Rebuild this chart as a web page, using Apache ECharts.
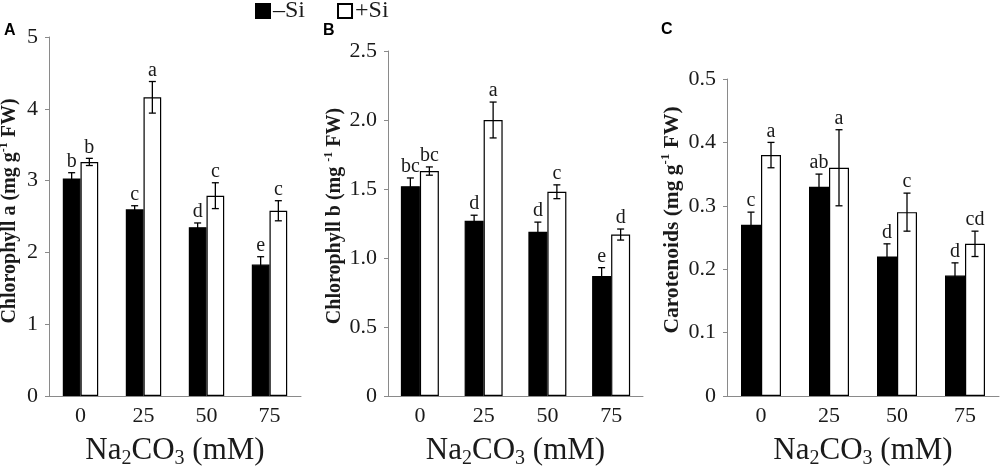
<!DOCTYPE html>
<html>
<head>
<meta charset="utf-8">
<script src="https://cdn.jsdelivr.net/npm/echarts@6/dist/echarts.min.js"></script>
<style>
  html, body { margin: 0; padding: 0; background: #fff; }
  #chart { width: 1000px; height: 469px; }
</style>
</head>
<body>
<div id="chart"></div>
<script>
(function () {

    var categories = ['0', '25', '50', '75'];

    // A: chlorophyll a
    var chlANoSi = [3.03, 2.60, 2.35, 1.83];
    var chlANoSiErr = [0.08, 0.05, 0.06, 0.11];
    var chlASi = [3.26, 4.16, 2.79, 2.58];
    var chlASiErr = [0.05, 0.22, 0.18, 0.14];
    var chlANoSiLetters = ['b', 'c', 'd', 'e'];
    var chlASiLetters = ['b', 'a', 'c', 'c'];

    // B: chlorophyll b
    var chlBNoSi = [1.52, 1.27, 1.19, 0.87];
    var chlBNoSiErr = [0.06, 0.04, 0.07, 0.06];
    var chlBSi = [1.63, 2.00, 1.48, 1.17];
    var chlBSiErr = [0.03, 0.13, 0.05, 0.04];
    var chlBNoSiLetters = ['bc', 'd', 'd', 'e'];
    var chlBSiLetters = ['bc', 'a', 'c', 'd'];

    // C: carotenoids
    var carNoSi = [0.27, 0.33, 0.22, 0.19];
    var carNoSiErr = [0.02, 0.02, 0.02, 0.02];
    var carSi = [0.38, 0.36, 0.29, 0.24];
    var carSiErr = [0.02, 0.06, 0.03, 0.02];
    var carNoSiLetters = ['c', 'ab', 'd', 'd'];
    var carSiLetters = ['a', 'a', 'c', 'cd'];

    var serif = '"Liberation Serif", "Times New Roman", serif';
    var sans = '"Liberation Sans", Arial, sans-serif';
    var axisGray = '#8a8a8a';

    var panels = [
        {noSi: chlANoSi, noSiErr: chlANoSiErr, si: chlASi, siErr: chlASiErr,
         noSiLet: chlANoSiLetters, siLet: chlASiLetters, max: 5, interval: 1, bw: 17.7,
         grid: {left: 49, top: 37, width: 252, height: 359}},
        {noSi: chlBNoSi, noSiErr: chlBNoSiErr, si: chlBSi, siErr: chlBSiErr,
         noSiLet: chlBNoSiLetters, siLet: chlBSiLetters, max: 2.5, interval: 0.5, bw: 19,
         grid: {left: 388, top: 51, width: 255, height: 345}},
        {noSi: carNoSi, noSiErr: carNoSiErr, si: carSi, siErr: carSiErr,
         noSiLet: carNoSiLetters, siLet: carSiLetters, max: 0.5, interval: 0.1, bw: 20,
         grid: {left: 727, top: 79, width: 272, height: 317}}
    ];

    var grids = [], xAxes = [], yAxes = [], series = [];

    panels.forEach(function (p, k) {
        grids.push(Object.assign({outerBoundsMode: 'none', containLabel: false}, p.grid));

        xAxes.push({
            type: 'category',
            gridIndex: k,
            data: categories,
            axisLine: {lineStyle: {color: axisGray, width: 1}},
            axisTick: {length: 4, lineStyle: {color: axisGray}},
            axisLabel: {color: '#1a1a1a', fontFamily: serif, fontSize: 22, margin: 9},
            name: '{b|Na}{s|2}{b|CO}{s|3}{b| (mM)}',
            nameLocation: 'middle',
            nameGap: 37,
            nameTextStyle: {
                rich: {
                    b: {fontFamily: serif, fontSize: 31, color: '#1a1a1a', lineHeight: 36},
                    s: {fontFamily: serif, fontSize: 20, color: '#1a1a1a', lineHeight: 20, verticalAlign: 'bottom'}
                }
            }
        });

        yAxes.push({
            type: 'value',
            gridIndex: k,
            min: 0,
            max: p.max,
            interval: p.interval,
            splitLine: {show: false},
            axisLine: {show: true, lineStyle: {color: axisGray, width: 1}},
            axisTick: {show: true, length: 4, lineStyle: {color: axisGray}},
            axisLabel: {
                color: '#1a1a1a', fontFamily: serif, fontSize: 22, margin: 11,
                formatter: function (v) {
                    if (v === 0) return '0';
                    return p.interval < 1 ? v.toFixed(1) : String(v);
                }
            }
        });

        series.push({
            name: '–Si',
            type: 'bar',
            xAxisIndex: k,
            yAxisIndex: k,
            barWidth: p.bw,
            barGap: '0%',
            itemStyle: {color: '#000', borderColor: '#000', borderWidth: 1.2},
            data: p.noSi
        });
        series.push({
            name: '+Si',
            type: 'bar',
            xAxisIndex: k,
            yAxisIndex: k,
            barWidth: p.bw,
            barGap: '0%',
            itemStyle: {color: '#fff', borderColor: '#000', borderWidth: 1.2},
            data: p.si
        });

        // error bars and significance letters
        series.push({
            type: 'custom',
            xAxisIndex: k,
            yAxisIndex: k,
            silent: true,
            z: 5,
            data: categories.map(function (c, i) { return [i, p.si[i]]; }),
            renderItem: function (params, api) {
                var i = params.dataIndex;
                var groups = [
                    {v: p.noSi[i], e: p.noSiErr[i], t: p.noSiLet[i], sign: -1},
                    {v: p.si[i], e: p.siErr[i], t: p.siLet[i], sign: 1}
                ];
                var children = [];
                var cap = 3.5;
                var ls = {stroke: '#000', lineWidth: 1.3};
                groups.forEach(function (g) {
                    var top = api.coord([i, g.v + g.e]);
                    var bot = api.coord([i, g.v - g.e]);
                    var x = top[0] + g.sign * p.bw / 2;
                    children.push({type: 'line', shape: {x1: x, y1: top[1], x2: x, y2: bot[1]}, style: ls});
                    children.push({type: 'line', shape: {x1: x - cap, y1: top[1], x2: x + cap, y2: top[1]}, style: ls});
                    children.push({type: 'line', shape: {x1: x - cap, y1: bot[1], x2: x + cap, y2: bot[1]}, style: ls});
                    children.push({
                        type: 'text',
                        x: x,
                        y: top[1] - 1,
                        style: {
                            text: g.t, fill: '#1a1a1a', fontFamily: serif, fontSize: 20,
                            align: 'center', verticalAlign: 'bottom'
                        }
                    });
                });
                return {type: 'group', children: children};
            }
        });
    });

    var yNameRich = function (size) {
        return {
            b: {fontFamily: serif, fontWeight: 'bold', fontSize: size, fill: '#1a1a1a', lineHeight: size + 4},
            s: {fontFamily: serif, fontWeight: 'bold', fontSize: Math.round(size * 0.62), fill: '#1a1a1a',
                lineHeight: Math.round(size * 0.62), verticalAlign: 'top'}
        };
    };

    var option = {
        animation: false,
        backgroundColor: '#fff',
        legend: {
            left: 255,
            top: -1,
            padding: 0,
            itemWidth: 14,
            itemHeight: 14,
            itemGap: 32,
            icon: 'rect',
            selectedMode: false,
            textStyle: {fontFamily: serif, fontSize: 24, color: '#1a1a1a', padding: [0, 0, 0, -2]},
            data: ['–Si', '+Si']
        },
        grid: grids,
        xAxis: xAxes,
        yAxis: yAxes,
        series: series,
        graphic: [
            {type: 'text', left: 4, top: 23, style: {text: 'A', fontFamily: sans, fontWeight: 'bold', fontSize: 16, fill: '#000'}},
            {type: 'text', left: 323, top: 23, style: {text: 'B', fontFamily: sans, fontWeight: 'bold', fontSize: 16, fill: '#000'}},
            {type: 'text', left: 661, top: 22, style: {text: 'C', fontFamily: sans, fontWeight: 'bold', fontSize: 16, fill: '#000'}},
            {type: 'text', x: 10, y: 211, rotation: Math.PI / 2,
             style: {text: '{b|Chlorophyll a (mg g}{s|-1}{b| FW)}', rich: yNameRich(20), align: 'center', verticalAlign: 'middle'}},
            {type: 'text', x: 335, y: 216, rotation: Math.PI / 2,
             style: {text: '{b|Chlorophyll b (mg }{s|-1}{b| FW)}', rich: yNameRich(20), align: 'center', verticalAlign: 'middle'}},
            {type: 'text', x: 672, y: 220, rotation: Math.PI / 2,
             style: {text: '{b|Carotenoids (mg g}{s|-1}{b| FW)}', rich: yNameRich(21.5), align: 'center', verticalAlign: 'middle'}}
        ]
    };

    var chart = echarts.init(document.getElementById('chart'));
    chart.setOption(option);

    window.addEventListener('resize', function () {
        chart.resize();
    });

})();
</script>
</body>
</html>
